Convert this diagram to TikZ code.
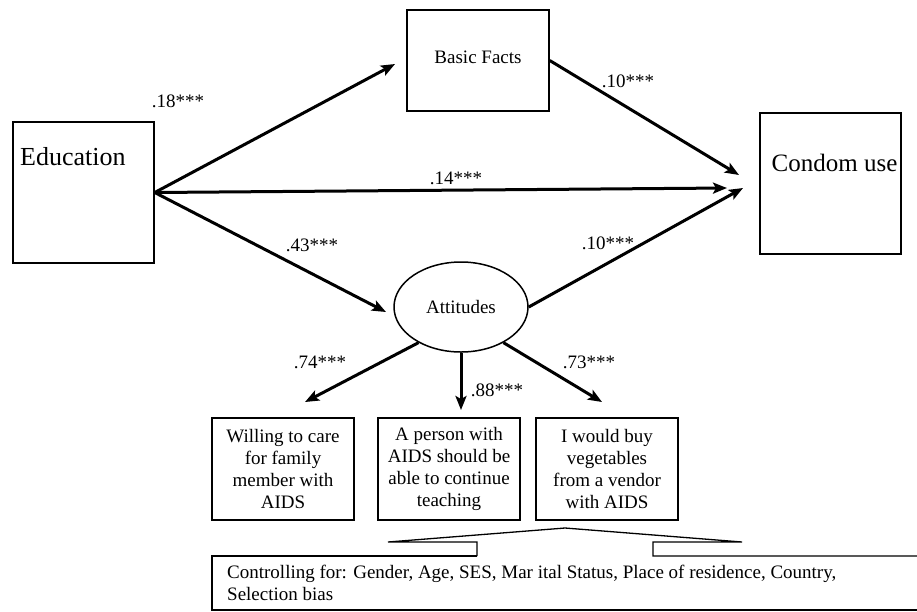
\documentclass[tikz,border=0pt]{standalone}
\usepackage{fontspec}
\setmainfont{LiberationSerif}[Extension=.ttf, UprightFont=*-Regular, BoldFont=*-Bold]
\usetikzlibrary{arrows.meta,shapes.geometric}
\tikzset{
  varbox/.style={draw, line width=1.5pt, inner sep=0pt},
  effect/.style={line width=3pt, -{Stealth[length=14pt,width=11pt,inset=3pt]}},
  coef/.style={font=\fontsize{19}{22}\selectfont, inner sep=0pt},
  indbox/.style={varbox, minimum width=142pt, minimum height=102pt, align=center, font=\fontsize{19}{22}\selectfont}
}
\begin{document}
\begin{tikzpicture}[x=1pt,y=-1pt,line join=miter]
  \useasboundingbox (0,0) rectangle (917,611);
  % variables
  \node[varbox, minimum width=141pt, minimum height=141pt] (edu) at (83.5,192.5) {};
  \node[font=\fontsize{26}{28}\selectfont, anchor=west, inner sep=0pt] (eduText) at (20,157) {Education};
  \node[varbox, minimum width=142pt, minimum height=101pt, font=\fontsize{19}{22}\selectfont] (facts) at (478,60.5) {\raisebox{7pt}{Basic Facts}};
  \node[varbox, minimum width=141pt, minimum height=141pt] (condom) at (830.5,183.5) {};
  \node[font=\fontsize{25}{28}\selectfont, inner sep=0pt] (condomText) at (834.5,163) {Condom use};
  \node[varbox, ellipse, minimum width=134pt, minimum height=90pt, font=\fontsize{19}{22}\selectfont] (att) at (461,307) {Attitudes};
  % indicators
  \node[indbox] (ind1) at (283,469) {Willing to care\\for family\\member with\\AIDS};
  \node[indbox] (ind2) at (449,469) {A person with\\AIDS should be\\able to continue\\teaching};
  \node[indbox] (ind3) at (607,469) {I would buy\\vegetables\\from a vendor\\with AIDS};
  % arrow ends
  \coordinate (tipFacts) at (395,64);
  \coordinate (tipAtt) at (386,312);
  \coordinate (tipC1) at (739,175);
  \coordinate (tipC2) at (727,188);
  \coordinate (tipC3) at (743,188);
  \coordinate (tipI1) at (305,402);
  \coordinate (tipI2) at (461,410);
  \coordinate (tipI3) at (602,402);
  % paths
  \draw[effect] (edu.east) -- (tipFacts);
  \draw[effect] (edu.east) -- (tipC2);
  \draw[effect] (edu.east) -- (tipAtt);
  \draw[effect] (facts.east) -- (tipC1);
  \draw[effect] (att.east) -- (tipC3);
  \draw[effect] (att.220) -- (tipI1);
  \draw[effect] (att.south) -- (tipI2);
  \draw[effect] (att.320) -- (tipI3);
  % coefficients
  \node[coef] (c18) at (178,101) {.18***};
  \node[coef] (c10a) at (628,81) {.10***};
  \node[coef] (c14) at (456,178) {.14***};
  \node[coef] (c43) at (312,245) {.43***};
  \node[coef] (c10b) at (608,243) {.10***};
  \node[coef] (c74) at (320,362) {.74***};
  \node[coef] (c88) at (497,390) {.88***};
  \node[coef] (c73) at (589,362) {.73***};
  % controls callout
  \draw[line width=1.3pt] (477,556) -- (212,556) -- (212,610) -- (917,610);
  \draw[line width=1.3pt] (477,556) -- (477,542) -- (388,542) -- (565,528) -- (742,542) -- (653,542) -- (653,556) -- (917,556);
  \node[anchor=north west, inner sep=0pt, align=left, font=\fontsize{19}{22}\selectfont] (ctrl) at (227,565)
    {Controlling for: Gender, Age, SES, Mar ital Status, Place of residence, Country,\\Selection bias};
\end{tikzpicture}
\end{document}
